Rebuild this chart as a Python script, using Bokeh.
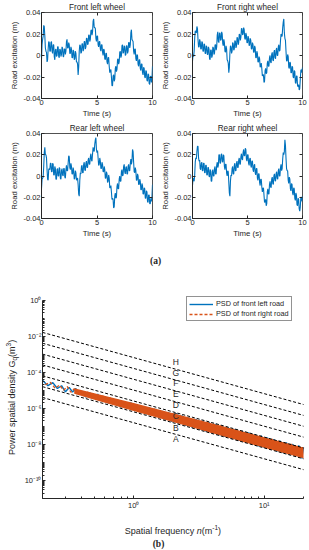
import math
from math import pi
from bokeh.plotting import figure
from bokeh.layouts import column, row
from bokeh.models import (Range1d, FixedTicker, CustomJSTickFormatter, Legend, LegendItem,
                          LinearAxis)
from bokeh.core.properties import value
from bokeh.embed import file_html
from bokeh.resources import INLINE

# ---------------- data: road excitation (m) sampled every 0.05 s ----------------
time_s = [round(0.05 * i, 2) for i in range(201)]

front_left = [
    -0.004, 0.010, 0.015, 0.018, 0.028, 0.027, 0.018, 0.007, 0.004, 0.003,
    -0.006, -0.004, 0.006, 0.013, 0.012, 0.004, 0.004, 0.012, 0.013, 0.004,
    0.002, 0.010, 0.010, -0.001, -0.004, 0.005, 0.006, -0.001, 0.000, 0.008,
    0.008, -0.001, -0.002, 0.006, 0.005, -0.001, 0.001, 0.008, 0.007, -0.001,
    -0.001, 0.006, 0.006, 0.001, 0.004, 0.013, 0.015, 0.007, 0.007, 0.012,
    0.010, 0.002, 0.002, 0.008, 0.006, -0.002, -0.002, 0.005, 0.004, -0.004,
    -0.003, 0.004, 0.002, -0.006, -0.006, -0.008, -0.018, -0.011, 0.004, 0.010,
    0.009, 0.002, 0.003, 0.011, 0.011, 0.004, 0.006, 0.013, 0.013, 0.006,
    0.008, 0.016, 0.016, 0.010, 0.011, 0.019, 0.019, 0.013, 0.015, 0.023,
    0.024, 0.019, 0.022, 0.032, 0.034, 0.026, 0.026, 0.025, 0.016, 0.013,
    0.018, 0.018, 0.010, 0.008, 0.013, 0.013, 0.006, 0.004, 0.010, 0.010,
    0.003, 0.000, 0.006, 0.005, -0.003, -0.004, 0.002, 0.002, -0.006, -0.008,
    -0.002, -0.002, -0.010, -0.016, -0.014, -0.013, -0.020, -0.028, -0.028, -0.019,
    -0.018, -0.024, -0.022, -0.012, -0.010, -0.015, -0.013, -0.004, -0.003, -0.008,
    -0.006, 0.003, 0.004, -0.002, 0.000, 0.009, 0.010, 0.002, 0.003, 0.009,
    0.008, 0.000, 0.001, 0.009, 0.009, 0.002, 0.004, 0.012, 0.012, 0.007,
    0.010, 0.021, 0.024, 0.015, 0.014, 0.013, 0.004, 0.001, 0.006, 0.006,
    -0.003, -0.005, 0.001, 0.000, -0.008, -0.010, -0.004, -0.004, -0.012, -0.014,
    -0.008, -0.008, -0.016, -0.018, -0.011, -0.012, -0.020, -0.021, -0.014, -0.015,
    -0.023, -0.024, -0.017, -0.018, -0.026, -0.027, -0.020, -0.019, -0.025, -0.022,
    -0.010]

front_right = [
    -0.005, 0.001, -0.001, 0.004, 0.016, 0.023, 0.022, 0.021, 0.027, 0.025,
    0.015, 0.008, 0.008, 0.015, 0.013, 0.006, 0.006, 0.013, 0.012, 0.004,
    0.004, 0.011, 0.010, 0.002, 0.002, 0.009, 0.008, 0.001, 0.001, 0.008,
    0.006, -0.003, -0.004, 0.005, 0.005, -0.002, 0.000, 0.008, 0.007, 0.001,
    0.002, 0.010, 0.010, 0.005, 0.008, 0.019, 0.022, 0.013, 0.012, 0.021,
    0.021, 0.014, 0.015, 0.022, 0.020, 0.011, 0.009, 0.015, 0.012, 0.004,
    0.003, 0.009, 0.006, -0.004, -0.005, -0.007, -0.016, -0.011, 0.002, 0.009,
    0.008, 0.002, 0.004, 0.012, 0.011, 0.005, 0.006, 0.014, 0.013, 0.007,
    0.009, 0.017, 0.016, 0.010, 0.012, 0.020, 0.019, 0.014, 0.017, 0.025,
    0.025, 0.019, 0.020, 0.026, 0.024, 0.016, 0.015, 0.021, 0.019, 0.012,
    0.012, 0.018, 0.016, 0.009, 0.010, 0.016, 0.014, 0.006, 0.006, 0.012,
    0.010, 0.003, 0.003, 0.009, 0.007, -0.002, -0.002, 0.004, 0.002, -0.006,
    -0.006, -0.001, -0.003, -0.011, -0.010, -0.007, -0.012, -0.019, -0.018, -0.018,
    -0.025, -0.024, -0.014, -0.012, -0.017, -0.016, -0.007, -0.005, -0.010, -0.010,
    -0.002, 0.000, -0.006, -0.007, 0.001, 0.003, -0.004, -0.005, 0.003, 0.005,
    -0.002, -0.003, 0.005, 0.007, 0.000, 0.000, 0.008, 0.010, 0.004, 0.005,
    0.014, 0.020, 0.018, 0.018, 0.026, 0.031, 0.034, 0.021, 0.016, 0.014,
    0.004, -0.005, -0.005, 0.001, -0.001, -0.011, -0.012, -0.006, -0.007, -0.016,
    -0.016, -0.010, -0.011, -0.020, -0.021, -0.014, -0.015, -0.025, -0.026, -0.019,
    -0.019, -0.028, -0.029, -0.027, -0.032, -0.031, -0.022, -0.014, -0.013, -0.016,
    -0.011]

rear_left = [
    -0.012, -0.003, -0.002, -0.001, 0.009, 0.022, 0.027, 0.020, 0.020, 0.017,
    0.006, -0.003, -0.004, 0.006, 0.007, 0.006, 0.012, 0.012, 0.004, 0.004,
    0.012, 0.011, 0.001, 0.001, 0.009, 0.007, -0.003, -0.003, 0.006, 0.007,
    0.000, 0.000, 0.008, 0.007, -0.002, -0.003, 0.005, 0.007, 0.001, 0.000,
    0.007, 0.007, -0.001, -0.002, 0.006, 0.010, 0.005, 0.005, 0.012, 0.019,
    0.018, 0.008, 0.006, 0.012, 0.009, 0.002, 0.002, 0.008, 0.005, -0.003,
    -0.002, 0.005, 0.003, -0.004, -0.003, -0.002, -0.008, -0.017, -0.019, -0.004,
    0.003, 0.002, 0.009, 0.010, 0.003, 0.003, 0.011, 0.013, 0.006, 0.005,
    0.012, 0.014, 0.008, 0.008, 0.015, 0.017, 0.011, 0.011, 0.018, 0.021,
    0.015, 0.014, 0.021, 0.027, 0.024, 0.023, 0.030, 0.034, 0.036, 0.025,
    0.022, 0.024, 0.017, 0.010, 0.011, 0.017, 0.014, 0.007, 0.007, 0.013,
    0.011, 0.004, 0.004, 0.009, 0.006, -0.002, -0.002, 0.004, 0.002, -0.006,
    -0.005, 0.001, -0.002, -0.011, -0.011, -0.009, -0.015, -0.022, -0.021, -0.022,
    -0.030, -0.029, -0.019, -0.016, -0.021, -0.020, -0.010, -0.007, -0.012, -0.012,
    -0.003, 0.000, -0.005, -0.005, 0.004, 0.006, 0.000, 0.001, 0.009, 0.011,
    0.004, 0.002, 0.008, 0.009, 0.002, 0.002, 0.009, 0.011, 0.005, 0.005,
    0.012, 0.016, 0.011, 0.014, 0.025, 0.023, 0.013, 0.004, 0.003, 0.008,
    0.005, -0.004, -0.004, 0.002, 0.000, -0.008, -0.008, -0.003, -0.005, -0.013,
    -0.013, -0.007, -0.009, -0.017, -0.017, -0.011, -0.012, -0.021, -0.021, -0.014,
    -0.015, -0.024, -0.025, -0.018, -0.018, -0.026, -0.026, -0.021, -0.024, -0.020,
    -0.008]

rear_right = [
    -0.009, -0.002, -0.003, -0.005, 0.001, 0.013, 0.017, 0.016, 0.023, 0.028,
    0.028, 0.017, 0.014, 0.015, 0.007, 0.006, 0.012, 0.013, 0.005, 0.005,
    0.012, 0.012, 0.003, 0.003, 0.010, 0.010, 0.001, 0.001, 0.008, 0.008,
    0.000, -0.001, 0.006, 0.005, -0.005, -0.005, 0.004, 0.006, 0.000, 0.000,
    0.007, 0.009, 0.002, 0.002, 0.010, 0.013, 0.008, 0.010, 0.020, 0.020,
    0.012, 0.012, 0.020, 0.021, 0.014, 0.013, 0.020, 0.019, 0.009, 0.006,
    0.011, 0.011, 0.003, 0.000, 0.005, 0.004, -0.006, -0.016, -0.019, -0.005,
    0.001, 0.000, 0.007, 0.009, 0.002, 0.002, 0.010, 0.012, 0.005, 0.005,
    0.012, 0.014, 0.008, 0.008, 0.015, 0.017, 0.011, 0.011, 0.018, 0.021,
    0.016, 0.015, 0.022, 0.025, 0.019, 0.019, 0.026, 0.025, 0.016, 0.014,
    0.020, 0.020, 0.012, 0.010, 0.016, 0.017, 0.010, 0.008, 0.014, 0.014,
    0.006, 0.004, 0.010, 0.011, 0.003, 0.001, 0.007, 0.007, -0.002, -0.004,
    0.002, 0.002, -0.006, -0.009, -0.003, -0.003, -0.010, -0.015, -0.012, -0.011,
    -0.018, -0.025, -0.024, -0.022, -0.028, -0.026, -0.015, -0.012, -0.017, -0.017,
    -0.008, -0.005, -0.010, -0.011, -0.003, -0.001, -0.007, -0.008, 0.000, 0.002,
    -0.004, -0.005, 0.002, 0.004, -0.002, -0.003, 0.005, 0.007, 0.000, 0.000,
    0.008, 0.011, 0.005, 0.007, 0.016, 0.022, 0.020, 0.023, 0.034, 0.029,
    0.017, 0.007, 0.005, 0.005, -0.004, -0.007, -0.001, -0.003, -0.012, -0.014,
    -0.007, -0.008, -0.016, -0.018, -0.011, -0.012, -0.021, -0.023, -0.016, -0.018,
    -0.027, -0.028, -0.021, -0.022, -0.031, -0.033, -0.029, -0.020, -0.020, -0.024,
    -0.019]

time_limits = (0, 10)
exc_limits = (-0.04, 0.04)
time_ticks = [0, 5, 10]
exc_ticks = [-0.04, -0.02, 0, 0.02, 0.04]

# ---------------- data: PSD (spatial frequency n in 1/m, Gq in m^3) ----------------
psd_n_fl = [0.2, 0.22, 0.24, 0.26, 0.28, 0.3, 0.32, 0.34, 0.36, 0.38, 0.4, 0.43, 0.46, 0.5,
            0.53, 0.56, 0.6, 0.64, 0.68, 0.72, 0.76, 0.8, 0.85, 0.9, 0.95, 1.0, 1.06, 1.12,
            1.18, 1.25, 1.32, 1.4, 1.48, 1.56, 1.65, 1.75, 1.85, 1.95, 2.05, 2.2, 2.35, 2.5,
            2.65, 2.8, 3.0, 3.2, 3.4, 3.6, 3.8, 4.0, 4.25, 4.5, 4.75, 5.0, 5.3, 5.6, 6.0,
            6.4, 6.8, 7.2, 7.6, 8.0, 8.5, 9.0, 9.5, 10.0, 10.6, 11.2, 11.8, 12.5, 13.2, 14.0,
            14.8, 15.6, 16.5, 17.4, 18.4, 19.4, 20.0]
psd_fl = [3.63e-5, 1.82e-5, 2.69e-5, 1.26e-5, 1.80e-5, 8.3e-6, 1.45e-5, 8.1e-6, 1.26e-5,
          5.75e-6, 8.9e-6, 4.27e-6, 7.4e-6, 3.47e-6, 6.2e-6, 2.63e-6, 4.27e-6, 1.88e-6,
          3.63e-6, 1.74e-6, 2.88e-6, 1.17e-6, 2.45e-6, 1.05e-6, 2.09e-6, 7.9e-7, 1.55e-6,
          6.0e-7, 1.32e-6, 4.68e-7, 1.10e-6, 3.89e-7, 9.3e-7, 3.02e-7, 7.2e-7, 2.29e-7,
          6.0e-7, 1.82e-7, 5.1e-7, 1.48e-7, 4.03e-7, 1.10e-7, 3.09e-7, 8.6e-8, 2.57e-7,
          6.6e-8, 2.04e-7, 5.1e-8, 1.64e-7, 4.17e-8, 1.35e-7, 3.24e-8, 1.08e-7, 2.63e-8,
          8.9e-8, 2.09e-8, 7.1e-8, 1.58e-8, 5.6e-8, 1.26e-8, 4.57e-8, 1.0e-8, 3.63e-8,
          7.9e-9, 3.02e-8, 6.5e-9, 2.4e-8, 5.1e-9, 1.95e-8, 4.07e-9, 1.62e-8, 3.31e-9,
          1.29e-8, 2.63e-9, 1.05e-8, 2.14e-9, 8.7e-9, 1.70e-9, 6.9e-9]

psd_n_fr = [0.21, 0.23, 0.25, 0.27, 0.29, 0.31, 0.33, 0.35, 0.37, 0.39, 0.415, 0.445, 0.48,
            0.515, 0.545, 0.58, 0.62, 0.66, 0.70, 0.74, 0.78, 0.825, 0.875, 0.925, 0.975,
            1.03, 1.09, 1.15, 1.215, 1.285, 1.36, 1.44, 1.52, 1.6, 1.7, 1.8, 1.9, 2.0, 2.12,
            2.27, 2.42, 2.57, 2.72, 2.9, 3.1, 3.3, 3.5, 3.7, 3.9, 4.12, 4.37, 4.62, 4.87,
            5.15, 5.45, 5.8, 6.2, 6.6, 7.0, 7.4, 7.8, 8.25, 8.75, 9.25, 9.75, 10.3, 10.9,
            11.5, 12.15, 12.85, 13.6, 14.4, 15.2, 16.05, 16.95, 17.9, 18.9, 19.7]
psd_fr = [2.09e-5, 2.79e-5, 1.30e-5, 1.95e-5, 1.02e-5, 1.62e-5, 7.85e-6, 1.22e-5, 6.0e-6,
          1.04e-5, 5.0e-6, 8.1e-6, 3.5e-6, 6.0e-6, 2.69e-6, 4.9e-6, 2.09e-6, 3.89e-6,
          1.62e-6, 3.2e-6, 1.32e-6, 2.66e-6, 1.04e-6, 2.11e-6, 8.1e-7, 1.76e-6, 6.4e-7,
          1.45e-6, 5.2e-7, 1.16e-6, 4.03e-7, 9.5e-7, 3.2e-7, 7.9e-7, 2.57e-7, 6.3e-7,
          2.02e-7, 5.2e-7, 1.62e-7, 4.2e-7, 1.23e-7, 3.3e-7, 9.5e-8, 2.69e-7, 7.4e-8,
          2.07e-7, 5.7e-8, 1.70e-7, 4.57e-8, 1.36e-7, 3.6e-8, 1.12e-7, 2.88e-8, 9.0e-8,
          2.29e-8, 7.4e-8, 1.78e-8, 5.7e-8, 1.36e-8, 4.68e-8, 1.11e-8, 3.76e-8, 8.6e-9,
          3.09e-8, 7.0e-9, 2.48e-8, 5.6e-9, 2.02e-8, 4.4e-9, 1.66e-8, 3.6e-9, 1.33e-8,
          2.88e-9, 1.08e-8, 2.29e-9, 8.8e-9, 1.84e-9, 7.1e-9]

# extent of the densely packed front-right PSD trace
band_n = [0.35, 0.5, 1.0, 2.0, 5.0, 10.0, 20.0]
band_fr_upper = [1.29e-5, 6.9e-6, 2.0e-6, 5.4e-7, 9.5e-8, 2.5e-8, 6.8e-9]
band_fr_lower = [6.5e-6, 3.0e-6, 7.1e-7, 1.74e-7, 2.7e-8, 6.6e-9, 1.74e-9]

# road-class reference lines (A..G drawn), values at the two ends of the axis
class_line_names = ["A", "B", "C", "D", "E", "F", "G"]
class_n_span = [0.2, 20.0]
class_G_left = [4e-6, 1.6e-5, 6.4e-5, 2.56e-4, 1.024e-3, 4.096e-3, 1.6384e-2]
class_G_right = [4e-10, 1.6e-9, 6.4e-9, 2.56e-8, 1.024e-7, 4.096e-7, 1.6384e-6]
# class letters A..H
class_names = ["A", "B", "C", "D", "E", "F", "G", "H"]
class_label_n = 2.1
class_label_G = [2.0e-8, 8.5e-8, 3.7e-7, 1.5e-6, 6.0e-6, 2.4e-5, 9.5e-5, 3.8e-4]

psd_n_limits = (0.2, 20.0)
psd_G_limits = (1e-11, 1.0)
psd_y_ticks = [1e-10, 1e-8, 1e-6, 1e-4, 1e-2, 1.0]
psd_x_ticks = [1.0, 10.0]

# ---------------- styling ----------------
SANS = "Liberation Sans"
SERIF = "Liberation Serif"
AX = "#262626"
BLUE = "#0072BD"
ORANGE = "#D95319"


def style_axis(ax, size="7.5px"):
    ax.major_label_text_font = SANS
    ax.major_label_text_font_size = size
    ax.major_label_text_color = AX
    ax.major_label_standoff = 1
    ax.major_tick_in = 3
    ax.major_tick_out = 0
    ax.minor_tick_in = 0
    ax.minor_tick_out = 0
    ax.axis_line_color = AX
    ax.major_tick_line_color = AX
    ax.minor_tick_line_color = AX
    ax.axis_label_text_font = SANS
    ax.axis_label_text_font_size = "7.8px"
    ax.axis_label_text_font_style = "normal"
    ax.axis_label_text_color = AX
    ax.axis_label_standoff = 1


def mirror_axis(p, ticks, loc, side):
    ax = LinearAxis(ticker=FixedTicker(ticks=ticks), fixed_location=loc)
    ax.major_label_text_alpha = 0
    ax.major_label_text_font_size = "1px"
    ax.major_tick_in = 3
    ax.major_tick_out = 0
    ax.minor_tick_in = 0
    ax.minor_tick_out = 0
    ax.axis_line_color = None
    ax.major_tick_line_color = AX
    p.add_layout(ax, side)


def time_fig(title, y, bl, br, bt, bb, fw, fh):
    p = figure(frame_width=fw, frame_height=fh, min_border_left=bl, min_border_right=br,
               min_border_top=bt, min_border_bottom=bb, x_range=Range1d(*time_limits),
               y_range=Range1d(*exc_limits), output_backend="svg", toolbar_location=None,
               title=title)
    p.title.align = "center"
    p.title.text_font = SANS
    p.title.text_font_size = "8.2px"
    p.title.text_font_style = "normal"
    p.title.text_color = AX
    if hasattr(p.title, "standoff"):
        p.title.standoff = 1
    p.grid.visible = False
    p.outline_line_color = AX
    p.outline_line_alpha = 0.8
    p.line(time_s, y, line_color=BLUE, line_width=1.1)
    xa, ya = p.xaxis[0], p.yaxis[0]
    xa.ticker = FixedTicker(ticks=time_ticks)
    ya.ticker = FixedTicker(ticks=exc_ticks)
    ya.formatter = CustomJSTickFormatter(code="return tick == 0 ? '0' : tick.toFixed(2);")
    style_axis(xa)
    style_axis(ya)
    xa.axis_label = "Time (s)"
    ya.axis_label = "Road excitation (m)"
    # box: mirrored ticks on the top and right edges
    mirror_axis(p, time_ticks, exc_limits[1], "above")
    mirror_axis(p, exc_ticks, time_limits[1], "right")
    return p


# widths: 158 + 151 = 309 ; heights: 120 + 120
p_fl = time_fig("Front left wheel", front_left, 41, 6, 11, 23, 111, 86)
p_fr = time_fig("Front right wheel", front_right, 34, 7, 11, 23, 110, 86)
p_rl = time_fig("Rear left wheel", rear_left, 41, 6, 11, 24, 111, 85)
p_rr = time_fig("Rear right wheel", rear_right, 34, 7, 11, 24, 110, 85)

# ---------------- PSD figure: one frame covering the whole lower block ----------------
TOP = 240          # page y where this figure starts
AX_LEFT = 42       # page x of the y axis
AX_TOP = 297.7     # page y of Gq = 1
PX_DEC_X = 130.5   # pixels per decade along n
PX_DEC_Y = 18.03   # pixels per decade along Gq


def X(px):
    return 10 ** (math.log10(psd_n_limits[0]) + (px - AX_LEFT) / PX_DEC_X)


def Y(py):
    return 10 ** (math.log10(psd_G_limits[1]) - (py - AX_TOP) / PX_DEC_Y)


p = figure(x_axis_type="log", y_axis_type="log", width=309, height=310,
           x_range=Range1d(X(0), X(309)), y_range=Range1d(Y(550), Y(TOP)),
           min_border=0, output_backend="svg", toolbar_location=None)
p.grid.visible = False
p.outline_line_color = None

r_fl = p.line(psd_n_fl, psd_fl, line_color=BLUE, line_width=1.4)
p.varea(x=band_n, y1=band_fr_lower, y2=band_fr_upper, fill_color=ORANGE, fill_alpha=1)
r_fr = p.line(psd_n_fr, psd_fr, line_color=ORANGE, line_width=1.3, line_dash="3 2")

p.multi_line(xs=[class_n_span for _ in class_line_names],
             ys=[[a, b] for a, b in zip(class_G_left, class_G_right)],
             line_color="black", line_width=1, line_dash="3 2")
p.text(x=[class_label_n] * len(class_names), y=class_label_G, text=class_names,
       text_font=value(SANS), text_font_size=value("8.5px"), text_color=AX,
       text_align="center", text_baseline="middle")

sup_code = """
const sup = {"0":"\u2070","1":"\u00b9","2":"\u00b2","3":"\u00b3","4":"\u2074","5":"\u2075",
             "6":"\u2076","7":"\u2077","8":"\u2078","9":"\u2079","-":"\u207b"};
const e = Math.round(Math.log10(tick));
return "10" + String(e).split("").map(c => sup[c]).join("");
"""
xa, ya = p.xaxis[0], p.yaxis[0]
style_axis(xa, "7.5px")
style_axis(ya, "7.5px")
xa.major_label_standoff = 2
xa.fixed_location = psd_G_limits[0]
ya.fixed_location = psd_n_limits[0]
xa.bounds = psd_n_limits
ya.bounds = psd_G_limits
xa.ticker = FixedTicker(ticks=psd_x_ticks,
                        minor_ticks=[0.2, 0.3, 0.4, 0.5, 0.6, 0.7, 0.8, 0.9,
                                     2, 3, 4, 5, 6, 7, 8, 9, 20])
y_minor = []
for e in range(-11, 0):
    for k in range(1, 10):
        y_minor.append(k * 10.0 ** e)
ya.ticker = FixedTicker(ticks=psd_y_ticks, minor_ticks=y_minor)
xa.formatter = CustomJSTickFormatter(code=sup_code)
ya.formatter = CustomJSTickFormatter(code=sup_code)
for ax in (xa, ya):
    ax.minor_tick_in = 2
    ax.minor_tick_out = 0

legend = Legend(items=[LegendItem(label="PSD of front left road", renderers=[r_fl]),
                       LegendItem(label="PSD of front right road", renderers=[r_fr])],
                location=(186, 231))
legend.label_text_font = SANS
legend.label_text_font_size = "7.3px"
legend.label_text_color = AX
legend.glyph_width = 24
legend.glyph_height = 8
legend.label_height = 8
legend.label_standoff = 3
legend.padding = 2
legend.spacing = 1
legend.margin = 0
legend.border_line_color = AX
legend.border_line_width = 0.7
legend.background_fill_color = "white"
legend.background_fill_alpha = 1
p.add_layout(legend, "center")


def put(px, py, text, size="9px", angle=0.0, style="normal", font=SANS, align="left",
        baseline="alphabetic"):
    p.text(x=[X(px)], y=[Y(py)], text=[text], angle=angle, text_font=value(font),
           text_font_size=value(size), text_font_style=value(style), text_color=AX,
           text_align=value(align), text_baseline=value(baseline))


# caption (a)
put(155, 258, "(a)", size="9.5px", style="bold", font=SERIF, align="center",
    baseline="middle")

# y-axis label: Power spatial density G_q (m^3), reading upwards
put(11.5, 452.5, "Power spatial density G", angle=pi / 2)
put(13.5, 358.0, "q", size="6.5px", angle=pi / 2)
put(11.5, 354.4, "(m", angle=pi / 2)
put(8.0, 343.9, "3", size="6.5px", angle=pi / 2)
put(11.5, 340.3, ")", angle=pi / 2)

# x-axis label: Spatial frequency n (m^-1)
put(124.3, 528, "Spatial frequency")
put(196.3, 528, "n", style="italic")
put(201.3, 528, "(m")
put(211.8, 524.5, "-1", size="6.5px")
put(217.6, 528, ")")

# caption (b)
put(158, 541, "(b)", size="9.5px", style="bold", font=SERIF, align="center",
    baseline="middle")

layout = column(row(p_fl, p_fr), row(p_rl, p_rr), p)

open("out.html", "w").write(file_html(layout, INLINE))
